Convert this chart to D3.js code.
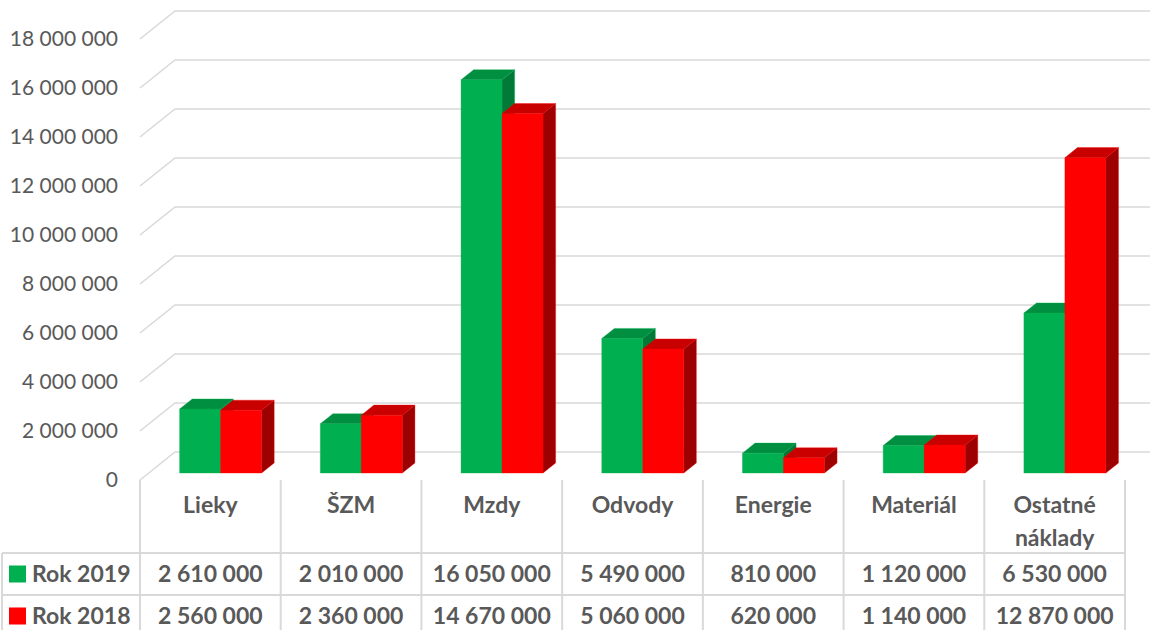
<!DOCTYPE html>
<html>
<head>
<meta charset="utf-8">
<script src="https://cdn.jsdelivr.net/npm/d3@7"></script>
<style>
  body { margin: 0; background: #fff; }
  text { font-family: Lato, "Open Sans", sans-serif; fill: #595959; }
</style>
</head>
<body>
<svg id="chart" width="1150" height="630"></svg>
<script>
// data
const categories = ['Lieky', 'ŠZM', 'Mzdy', 'Odvody', 'Energie', 'Materiál', 'Ostatné náklady'];
const seriesNames = ['Rok 2019', 'Rok 2018'];
const rok2019 = [2610000, 2010000, 16050000, 5490000, 810000, 1120000, 6530000];
const rok2018 = [2560000, 2360000, 14670000, 5060000, 620000, 1140000, 12870000];
const yTicks = [0, 2000000, 4000000, 6000000, 8000000, 10000000, 12000000, 14000000, 16000000, 18000000];

const seriesValues = [rok2019, rok2018];
const colors = {
  'Rok 2019': { front: '#00b050', top: '#008f40', side: '#007a36' },
  'Rok 2018': { front: '#ff0000', top: '#c80000', side: '#9c0000' }
};

const svg = d3.select('#chart');
const fmt = d3.formatLocale({ decimal: ',', thousands: ' ', grouping: [3], currency: ['', ''] }).format(',d');

// front plane scales
const x = d3.scaleBand().domain(categories).range([140, 1125]);
const y = d3.scaleLinear().domain([0, 18000000]).range([480, 39]);
const depth = { x: 35, y: -28 };   // oblique 3D offset of the back wall
const tFront = 0.25, tBack = 0.61;  // where the bars sit inside the box

const barW = 41;
const xs = d3.scaleBand().domain(seriesNames)
  .range([(x.bandwidth() - 2 * barW) / 2 + 1.5, (x.bandwidth() + 2 * barW) / 2 + 1.5]);

// gridlines: left wall slant + back wall
svg.append('g')
  .selectAll('path')
  .data(yTicks)
  .join('path')
    .attr('d', d => `M${x.range()[0]},${y(d)} l${depth.x},${depth.y} H1150`)
    .attr('fill', 'none')
    .attr('stroke', '#d9d9d9')
    .attr('stroke-width', 1.6);

// y axis labels
svg.append('g')
  .selectAll('text')
  .data(yTicks)
  .join('text')
    .attr('x', 118)
    .attr('y', d => y(d))
    .attr('dy', '0.35em')
    .attr('text-anchor', 'end')
    .style('font-size', '21px')
    .text(d => fmt(d));

// bars
const bars = [];
categories.forEach((c, i) => {
  seriesNames.forEach((s, j) => {
    bars.push({ cat: c, series: s, value: seriesValues[j][i] });
  });
});

const dx = depth.x * (tBack - tFront), dy = depth.y * (tBack - tFront);
const barG = svg.append('g')
  .selectAll('g')
  .data(bars)
  .join('g')
    .attr('transform', `translate(${depth.x * tFront},${depth.y * tFront})`);

barG.append('path') // front
  .attr('d', d => {
    const x0 = x(d.cat) + xs(d.series), y0 = y(0), y1 = y(d.value);
    return `M${x0},${y0} V${y1} h${barW} V${y0} Z`;
  })
  .attr('fill', d => colors[d.series].front);

barG.append('path') // top
  .attr('d', d => {
    const x0 = x(d.cat) + xs(d.series), y1 = y(d.value);
    return `M${x0},${y1} l${dx},${dy} h${barW} l${-dx},${-dy} Z`;
  })
  .attr('fill', d => colors[d.series].top);

barG.append('path') // side
  .attr('d', d => {
    const x1 = x(d.cat) + xs(d.series) + barW, y0 = y(0), y1 = y(d.value);
    return `M${x1},${y0} V${y1} l${dx},${dy} V${y0 + dy} Z`;
  })
  .attr('fill', d => colors[d.series].side);

barG.selectAll('path')
  .attr('stroke', d => colors[d.series].front)
  .attr('stroke-opacity', 0.45)
  .attr('stroke-width', 0.8)
  .attr('stroke-linejoin', 'round');

// data table
const rowTop = 553, rowH = 42, tableLeft = 2;
const table = svg.append('g').attr('stroke', '#d9d9d9').attr('stroke-width', 2);
const edges = categories.map(c => x(c)).concat([x.range()[1]]);
table.selectAll('.vline')
  .data(edges)
  .join('line')
    .attr('x1', d => d).attr('x2', d => d)
    .attr('y1', y(0)).attr('y2', rowTop + 2 * rowH);
table.append('line')
  .attr('x1', tableLeft).attr('x2', tableLeft)
  .attr('y1', rowTop).attr('y2', rowTop + 2 * rowH);
table.selectAll('.hline')
  .data([0, 1, 2])
  .join('line')
    .attr('x1', tableLeft).attr('x2', x.range()[1])
    .attr('y1', d => rowTop + d * rowH).attr('y2', d => rowTop + d * rowH);

// category labels
svg.append('g')
  .selectAll('text')
  .data(categories)
  .join('text')
    .attr('x', d => x(d) + x.bandwidth() / 2)
    .attr('y', 513)
    .attr('text-anchor', 'middle')
    .style('font-size', '23px')
    .style('font-weight', 'bold')
    .selectAll('tspan')
    .data(d => d.split(' '))
    .join('tspan')
      .attr('x', function () { return d3.select(this.parentNode).attr('x'); })
      .attr('dy', (d, i) => i ? 33 : 0)
      .text(d => d);

// legend keys + row names
const rows = svg.append('g')
  .selectAll('g')
  .data(seriesNames)
  .join('g')
    .attr('transform', (d, i) => `translate(0,${rowTop + i * rowH + rowH / 2})`);
rows.append('rect')
  .attr('x', 9).attr('y', -8.5)
  .attr('width', 17).attr('height', 17)
  .attr('fill', d => colors[d].front);
rows.append('text')
  .attr('x', 32)
  .attr('dy', '0.36em')
  .style('font-size', '23px')
  .style('font-weight', 'bold')
  .text(d => d);

// values
rows.each(function (s, j) {
  d3.select(this).selectAll('.val')
    .data(seriesValues[j])
    .join('text')
      .attr('x', (d, i) => x(categories[i]) + x.bandwidth() / 2)
      .attr('dy', '0.36em')
      .attr('text-anchor', 'middle')
      .style('font-size', '23px')
      .style('font-weight', 'bold')
      .text(d => fmt(d));
});
</script>
</body>
</html>
